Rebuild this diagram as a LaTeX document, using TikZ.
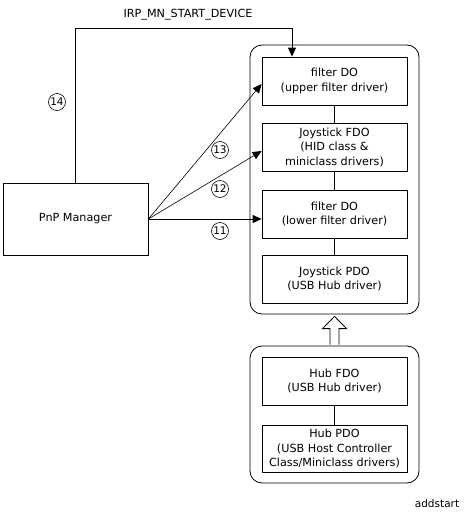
\documentclass[tikz,border=0pt]{standalone}
\usepackage{fontspec}
\setmainfont{DejaVu Sans}
\usetikzlibrary{arrows.meta,calc}
\begin{document}
\begin{tikzpicture}[x=1pt,y=-1pt,
  every node/.style={font=\fontsize{11.2}{14.5}\selectfont},
  lw/.style={line width=0.8pt},
  devbox/.style={draw,lw,minimum width=145pt,minimum height=48pt,align=center,inner sep=0pt},
  stackbox/.style={draw,lw,rounded corners=12pt,inner sep=0pt},
  num/.style={draw,circle,line width=0.6pt,minimum size=17pt,inner sep=0pt,font=\fontsize{10.5}{12}\selectfont},
  arr/.style={lw,-{Triangle[length=9pt,width=8pt]}},
  thin/.style={line width=0.6pt}]
\useasboundingbox (0,0) rectangle (469,517);

% device stacks
\node[stackbox,minimum width=169pt,minimum height=269pt] (upper) at (334.5,179.5) {};
\node[stackbox,minimum width=169pt,minimum height=137pt] (lower) at (334.5,414.5) {};

\node[devbox] (f1) at (334.5,81) {filter DO\\(upper filter driver)};
\node[devbox] (f2) at (334.5,147) {Joystick FDO\\(HID class \&\\miniclass drivers)};
\node[devbox] (f3) at (334.5,214) {filter DO\\(lower filter driver)};
\node[devbox] (f4) at (334.5,279) {Joystick PDO\\(USB Hub driver)};
\node[devbox] (h1) at (334.5,381) {Hub FDO\\(USB Hub driver)};
\node[devbox,minimum height=47pt] (h2) at (334.5,448.5) {Hub PDO\\(USB Host Controller\\Class/Miniclass drivers)};

\draw[lw] (f1) -- (f2);
\draw[lw] (f2) -- (f3);
\draw[lw] (f3) -- (f4);
\draw[lw] (h1) -- (h2);

% hollow arrow between the stacks
\draw[lw,fill=white]
  ($(lower.north)+(-4.5,-1)$) -- ($(lower.north)+(-4.5,-17)$) -- ($(lower.north)+(-12,-17)$)
  -- ($(upper.south)+(0,2)$) -- ($(lower.north)+(12,-17)$) -- ($(lower.north)+(4.5,-17)$)
  -- ($(lower.north)+(4.5,-1)$);

% PnP manager and its requests
\node[draw,lw,minimum width=145pt,minimum height=72pt] (pnp) at (75.5,219) {PnP Manager};

\coordinate (turn) at (292,28);
\draw[arr] (pnp.north) |- (turn) -- (turn |- f1.north);
\node (irp) at (188,15) {IRP\_MN\_START\_DEVICE};
\node[num] (n14) at (57,102) {14};

\draw[arr,thin] (pnp.east) -- ($(f1.west)+(0,3)$);
\draw[arr,thin] (pnp.east) -- ($(f2.west)+(0,4)$);
\draw[arr] (pnp.east) -- (pnp.east -| f3.west);
\node[num] (n13) at (220,150) {13};
\node[num] (n12) at (220,189) {12};
\node[num] (n11) at (220,231) {11};

\node[font=\fontsize{10.5}{12}\selectfont] (tag) at (437,504) {addstart};
\end{tikzpicture}
\end{document}
